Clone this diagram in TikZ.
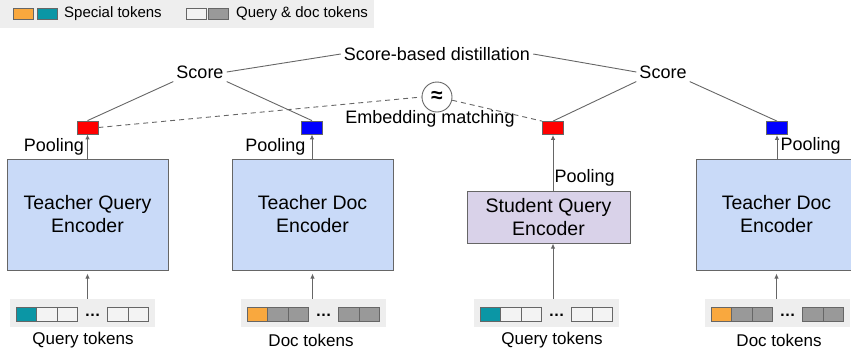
\documentclass[tikz,border=0pt]{standalone}
\usepackage{fontspec}
\setmainfont{Liberation Sans}
\usepackage{tikz}
\usetikzlibrary{arrows.meta,positioning,shapes}

\definecolor{encblue}{HTML}{C9DAF8}
\definecolor{encpurple}{HTML}{D9D2E9}
\definecolor{linegray}{HTML}{666666}
\definecolor{tokorange}{HTML}{F9A83E}
\definecolor{tokteal}{HTML}{0B96A5}
\definecolor{tokgray}{HTML}{999999}
\definecolor{tokwhite}{HTML}{F3F3F3}
\definecolor{stripgray}{HTML}{EEEEEE}

\tikzstyle{encoder}=[draw=linegray, line width=1pt, fill=encblue, minimum width=161pt, minimum height=111pt, inner sep=0pt, align=center, font=\fontsize{19.5}{23}\selectfont]
\tikzstyle{emb}=[draw=linegray, line width=0.8pt, minimum width=21pt, minimum height=13pt, inner sep=0pt]
\tikzstyle{tok}=[draw=linegray, line width=0.8pt, minimum width=20.5pt, minimum height=14pt, inner sep=0pt]
\tikzstyle{strip}=[fill=stripgray, minimum width=145pt, minimum height=28pt, inner sep=0pt]
\tikzstyle{lbl}=[font=\fontsize{18}{21}\selectfont, inner sep=3pt]
\tikzstyle{toklbl}=[font=\fontsize{17}{19}\selectfont, inner sep=0pt]
\tikzstyle{arr}=[-{Latex[length=5pt,width=4.5pt]}, draw=linegray, line width=1pt]
\tikzstyle{link}=[draw=linegray, line width=0.9pt]

\begin{document}
\begin{tikzpicture}[x=1pt, y=-1pt]
  \useasboundingbox (0,0) rectangle (851,354);
  \clip (0,0) rectangle (851,354);

  % legend
  \node[fill=stripgray, minimum width=374pt, minimum height=28pt, inner sep=0pt] (legend) at (187,14) {};
  \node[tok, fill=tokorange, minimum width=20pt, minimum height=11pt] (lgor) at (23,13.5) {};
  \node[tok, fill=tokteal, minimum width=20pt, minimum height=11pt] (lgte) at (47,13.5) {};
  \node[anchor=west, inner sep=1pt, font=\fontsize{15}{17}\selectfont] (lgsp) at (63,13.5) {Special tokens};
  \node[tok, fill=tokwhite, minimum width=20pt, minimum height=11pt] (lgwh) at (196,13.5) {};
  \node[tok, fill=tokgray, minimum width=20pt, minimum height=11pt] (lggr) at (218.5,13.5) {};
  \node[anchor=west, inner sep=1pt, font=\fontsize{15}{17}\selectfont] (lgqd) at (235,13.5) {Query \& doc tokens};

  % encoders
  \node[encoder] (tq) at (87.5,214.5) {Teacher Query\\Encoder};
  \node[encoder] (td) at (312.5,214.5) {Teacher Doc\\Encoder};
  \node[encoder, fill=encpurple, minimum width=163pt, minimum height=52pt, text depth=0pt] (sq) at (548.5,217) {Student Query\\Encoder};
  \node[encoder] (td2) at (776.5,214.5) {Teacher Doc\\Encoder};

  % embeddings
  \node[emb, fill=red] (e1) at (87.5,127.5) {};
  \node[emb, fill=blue] (e2) at (312,127.5) {};
  \node[emb, fill=red] (e3) at (553,128) {};
  \node[emb, fill=blue] (e4) at (777,128) {};

  % token strips
  \foreach \n/\L/\sp/\tc in {q1/10/tokteal/tokwhite, d1/241/tokorange/tokgray, q2/474/tokteal/tokwhite, d2/705/tokorange/tokgray}{
    \node[strip] (\n) at (\L+72.5,313) {};
    \node[tok, fill=\sp] (\n-1) at (\L+16.5,314) {};
    \node[tok, fill=\tc] (\n-2) at (\L+37,314) {};
    \node[tok, fill=\tc] (\n-3) at (\L+57.5,314) {};
    \node[anchor=base, inner sep=0pt, font=\fontsize{16}{18}\selectfont\bfseries] (\n-dots) at (\L+82.5,316) {…};
    \node[tok, fill=\tc] (\n-4) at (\L+108,314) {};
    \node[tok, fill=\tc] (\n-5) at (\L+128.5,314) {};
  }
  \node[toklbl] (q1t) at (83,340) {Query tokens};
  \node[toklbl] (d1t) at (311,340) {Doc tokens};
  \node[toklbl] (q2t) at (552,340) {Query tokens};
  \node[toklbl] (d2t) at (779,340) {Doc tokens};

  % inputs
  \draw[arr, shorten >=3pt] (q1.north -| tq) -- (tq.south);
  \draw[arr, shorten >=3pt] (d1.north -| td) -- (td.south);
  \draw[arr] (q2.north -| e3) -- (e3 |- sq.south);
  \draw[arr, shorten >=3pt] (d2.north -| td2) -- (td2.south);

  % pooling
  \draw[arr] (tq.north -| e1) -- (e1.south) node[lbl, midway, left] (p1) {Pooling};
  \draw[arr] (td.north -| e2) -- (e2.south) node[lbl, midway, left, xshift=-3pt] (p2) {Pooling};
  \draw[arr] (sq.north -| e3) -- (e3.south) node[lbl, pos=0.23, right, inner sep=1pt] (p3) {Pooling};
  \draw[arr] (td2.north -| e4) -- (e4.south) node[lbl, pos=0.55, right, inner sep=3pt] (p4) {Pooling};

  % scores
  \node[lbl] (s1) at (200,72) {Score};
  \node[lbl] (s2) at (663,72) {Score};
  \node[lbl] (dist) at (437,54) {Score-based distillation};
  \draw[link] (s1.east) -- (dist.west);
  \draw[link] (dist.east) -- (s2.west);
  \draw[link] (s1.south west) -- (e1.north);
  \draw[link] (s1.south east) -- (e2.north);
  \draw[link] (s2.south west) -- (e3.north);
  \draw[link] (s2.south east) -- (e4.north);

  % embedding matching
  \node[circle, draw=linegray, line width=0.9pt, minimum size=30pt, inner sep=0pt, font=\fontsize{21}{22}\selectfont\bfseries] (approx) at (437,97) {≈};
  \node[lbl] (em) at (430,119) {Embedding matching};
  \draw[link, dash pattern=on 5pt off 4pt] (e1.east) -- (approx.west);
  \draw[link, dash pattern=on 5pt off 4pt] (approx.-12) -- (e3.north west);
\end{tikzpicture}
\end{document}
